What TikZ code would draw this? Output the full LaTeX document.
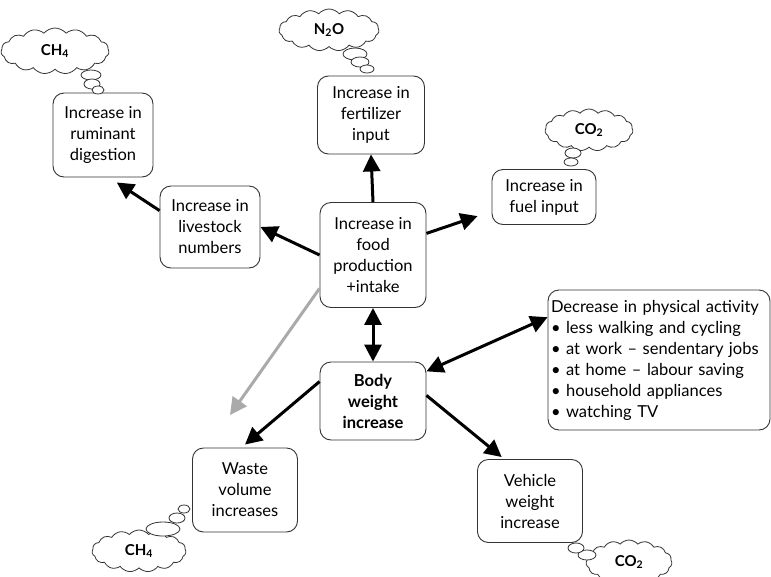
\documentclass[tikz,border=0pt]{standalone}
\usepackage{fontspec}
\setmainfont{Lato}
\usetikzlibrary{positioning,arrows.meta,shapes.symbols}
\definecolor{edgec}{HTML}{333333}
\definecolor{wastec}{HTML}{AAAAAA}
\newcommand{\boxfont}{\fontsize{16.5}{21}\selectfont}
\tikzset{
  box/.style={draw=edgec, rounded corners=11pt, align=center, font=\boxfont,
              minimum width=104pt, minimum height=82pt, inner sep=2pt, fill=white, line width=0.9pt},
  abox/.style={box, align=left, minimum width=222pt, minimum height=140pt, text width=216pt},
  gas/.style={cloud, cloud ignores aspect, draw=edgec, cloud puffs=15, cloud puff arc=100,
              inner sep=0pt, line width=0.8pt, font=\fontsize{15}{17}\selectfont\bfseries},
  bub/.style={draw=edgec, line width=0.8pt, fill=white},
  arr/.style={-{Triangle[length=17pt, width=17pt]}, line width=3pt},
  darr/.style={{Triangle[length=17pt, width=17pt]}-{Triangle[length=17pt, width=17pt]}, line width=3pt},
}
\begin{document}
\begin{tikzpicture}[x=1pt,y=-1pt]
  \useasboundingbox (0,0) rectangle (771,576);

  % boxes
  \node[box, minimum width=100pt, minimum height=84pt] (rumen) at (103,135) {Increase in\\ruminant\\digestion};
  \node[box, minimum width=107pt, minimum height=78pt] (fert) at (371,115) {Increase in\\fertilizer\\input};
  \node[box, minimum height=55pt] (fuel) at (544,197) {Increase in\\fuel input};
  \node[box, minimum width=100pt] (stock) at (210,227) {Increase in\\livestock\\numbers};
  \node[box, minimum width=106pt, minimum height=105pt] (food) at (373,255) {Increase in\\food\\production\\+intake};
  \node[box, minimum width=106pt, minimum height=78pt, font=\boxfont\bfseries] (body) at (373,401) {Body\\weight\\increase};
  \node[box, minimum width=105pt, minimum height=84pt] (waste) at (245,490) {Waste\\volume\\increases};
  \node[box, minimum width=105pt, minimum height=83pt] (vehicle) at (530,501) {Vehicle\\weight\\increase};
  \node[abox] (activity) at (659,360) {Decrease in physical activity\\
    \textbullet\ less walking and cycling\\
    \textbullet\ at work -- sendentary jobs\\
    \textbullet\ at home -- labour saving\\
    \textbullet\ household appliances\\
    \textbullet\ watching TV};

  % gas clouds
  \node[gas, minimum width=108pt, minimum height=46pt] (ch4top) at (55,51) {CH\textsubscript{4}};
  \draw[bub] (91,75) ellipse [x radius=10pt, y radius=5pt];
  \draw[bub] (92,84) ellipse [x radius=8pt, y radius=5pt];
  \draw[bub] (98,90) ellipse [x radius=6pt, y radius=4pt];

  \node[gas, minimum width=100pt, minimum height=42pt] (n2o) at (329,30) {N\textsubscript{2}O};
  \draw[bub] (355,54) ellipse [x radius=12pt, y radius=6pt];
  \draw[bub] (360,62) ellipse [x radius=9pt, y radius=5pt];
  \draw[bub] (367,69) ellipse [x radius=7pt, y radius=4pt];

  \node[gas, minimum width=88pt, minimum height=42pt] (co2top) at (589,130) {CO\textsubscript{2}};
  \draw[bub] (573,153) ellipse [x radius=8pt, y radius=5pt];
  \draw[bub] (571,162) ellipse [x radius=7pt, y radius=4pt];

  \node[gas, minimum width=94pt, minimum height=42pt] (ch4low) at (139,551) {CH\textsubscript{4}};
  \draw[bub] (163,529) ellipse [x radius=17pt, y radius=7pt];
  \draw[bub] (177,518) ellipse [x radius=8pt, y radius=5pt];
  \draw[bub] (184,509) ellipse [x radius=6pt, y radius=4pt];

  \node[gas, minimum width=86pt, minimum height=44pt] (co2low) at (629,562) {CO\textsubscript{2}};
  \draw[bub] (587,555) ellipse [x radius=9pt, y radius=5pt];
  \draw[bub] (576,548) ellipse [x radius=8pt, y radius=5pt];

  % connectors
  \draw[arr] (food.west) -- (stock.east);
  \draw[arr] (stock.162) -- ([yshift=-5pt]rumen.-72);
  \draw[arr] (food.north) -- (fert.south);
  \draw[arr] (food.22) -- ([xshift=-14pt]fuel.200);
  \draw[darr] (food.south) -- (body.north);
  \draw[darr] (activity.159) -- (body.29);
  \draw[arr, wastec] (food.212) -- (230,415);
  \draw[arr] (body.160) -- ([yshift=3pt]waste.north);
  \draw[arr] (body.6) -- ([yshift=2pt]vehicle.124);
\end{tikzpicture}
\end{document}
